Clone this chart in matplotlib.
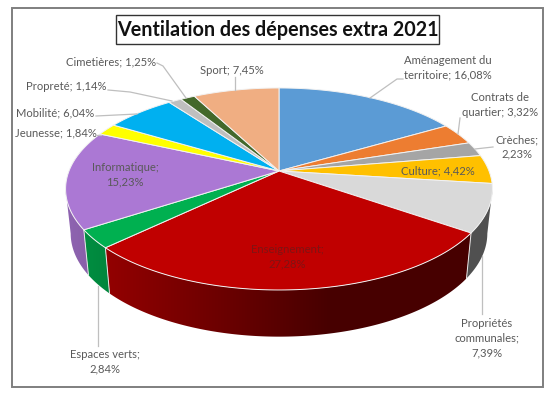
# -*- coding: utf-8 -*-
"""Camembert 3D en perspective : ventilation des dépenses extra 2021."""
import numpy as np
import matplotlib
matplotlib.use("Agg")
import matplotlib.pyplot as plt
from matplotlib.patches import Polygon, Rectangle

plt.rcParams["font.family"] = ["Lato", "DejaVu Sans"]

CATEGORIES = [
    "Aménagement du territoire", "Contrats de quartier", "Crèches", "Culture",
    "Propriétés communales", "Enseignement", "Espaces verts", "Informatique",
    "Jeunesse", "Mobilité", "Propreté", "Cimetières", "Sport",
]
VALUES = [16.08, 3.32, 2.23, 4.42, 7.39, 27.28, 2.84, 15.23, 1.84, 6.04, 1.14, 1.25, 7.45]
COLORS = [
    "#5B9BD5", "#ED7D31", "#A5A5A5", "#FFC000", "#D9D9D9", "#C00000", "#00B050",
    "#AB78D4", "#FFFF00", "#00B0F0", "#BFBFBF", "#43682B", "#F0AE82",
]

TEXT_COLOR = "#595959"
LEADER_COLOR = "#BFBFBF"
LABEL_SIZE = 8.1

# perspective du disque : (X centre, Y centre, demi-axe x, demi-axe y, fuite)
TOP_PLANE = (279, 171, 210, 97.8, 0.178)
BOTTOM_PLANE = (279, 215, 205, 100, 0.178)
# le mur n'est visible qu'en dessous des points extrêmes gauche/droite de l'ellipse
WALL_LIMIT = -TOP_PLANE[4]


def project(theta, plane):
    cx, cy, a, b, k = plane
    u, v = np.sin(theta), np.cos(theta)
    w = 1 + k * v
    return np.column_stack([cx + a * u / w, cy - b * v / w])


def draw_wall(ax, col, t0, t1):
    # mur latéral : dégradé clair à gauche, très sombre à droite, découpé par le polygone
    th = np.linspace(t0, t1, 200)
    th = th[np.cos(th) < WALL_LIMIT]
    if len(th) < 2:
        return
    top, bot = project(th, TOP_PLANE), project(th, BOTTOM_PLANE)
    pts = np.vstack([top, bot[::-1]])
    x0, x1 = pts[:, 0].min() - 1, pts[:, 0].max() + 1
    xs = np.linspace(x0, x1, 256)
    f = np.interp(xs, [64, 330], [0.84, 0.37])
    img = (np.array(matplotlib.colors.to_rgb(col))[None, None, :] * f[None, :, None])
    im = ax.imshow(img, extent=(x0, x1, pts[:, 1].max() + 1, pts[:, 1].min() - 1),
                   aspect="auto", interpolation="bilinear", zorder=2)
    clip = Polygon(pts, closed=True, transform=ax.transData)
    im.set_clip_path(clip)


def draw_pie(ax):
    edges = np.concatenate([[0], np.cumsum(VALUES)]) / np.sum(VALUES) * 2 * np.pi

    # murs d'abord, le dessus les recouvre ensuite
    for i, col in enumerate(COLORS):
        draw_wall(ax, col, edges[i], edges[i + 1])

    for t in edges[:-1]:
        if np.cos(t) < WALL_LIMIT:
            a = project(np.array([t]), TOP_PLANE)[0]
            b = project(np.array([t]), BOTTOM_PLANE)[0]
            ax.plot([a[0], b[0]], [a[1], b[1]], color="#E8E8E8", lw=0.7, zorder=3)

    center = np.array([[TOP_PLANE[0], TOP_PLANE[1]]])
    for i, col in enumerate(COLORS):
        th = np.linspace(edges[i], edges[i + 1], 120)
        pts = np.vstack([center, project(th, TOP_PLANE)])
        ax.add_patch(Polygon(pts, closed=True, facecolor=col, edgecolor="#F2F2F2", lw=0.7, zorder=4))


def draw_labels(ax):
    # (texte, x, y, alignement)
    labels = [
        ("Cimetières; 1,25%", 156, 62, "right"),
        ("Sport; 7,45%", 232, 70, "center"),
        ("Propreté; 1,14%", 106, 87, "right"),
        ("Mobilité; 6,04%", 94, 113, "right"),
        ("Jeunesse; 1,84%", 97, 133, "right"),
        ("Informatique;\n15,23%", 125, 175, "center"),
        ("Aménagement du\nterritoire; 16,08%", 448, 68, "center"),
        ("Contrats de\nquartier; 3,32%", 500, 105, "center"),
        ("Crèches;\n2,23%", 517, 147, "center"),
        ("Culture; 4,42%", 438, 171, "center"),
        ("Propriétés\ncommunales;\n7,39%", 487, 338, "center"),
        ("Espaces verts;\n2,84%", 105, 362, "center"),
    ]
    for txt, x, y, ha in labels:
        ax.text(x, y, txt, ha=ha, va="center", ma="center", fontsize=LABEL_SIZE,
                color=TEXT_COLOR, linespacing=1.4, zorder=6)
    ax.text(287, 257, "Enseignement;\n27,28%", ha="center", va="center", ma="center",
            fontsize=LABEL_SIZE, color="#7E1414", linespacing=1.4, zorder=6)

    leaders = [
        [(157, 63), (163, 66), (186, 98)],
        [(108, 90), (130, 92), (172, 101)],
        [(96, 116), (137, 114)],
        [(97, 135), (101, 135)],
        [(235, 77), (235, 90)],
        [(403, 79), (397, 79), (370, 98)],
        [(460, 118), (458, 134)],
        [(493, 147), (475, 149)],
        [(482, 314), (482, 256)],
        [(98, 346), (98, 286)],
    ]
    for pts in leaders:
        xs, ys = zip(*pts)
        ax.plot(xs, ys, color=LEADER_COLOR, lw=0.9, zorder=5)


def main():
    fig = plt.figure(figsize=(5.6, 3.96), dpi=100)
    ax = fig.add_axes([0, 0, 1, 1])
    ax.axis("off")

    # cadre extérieur et boîte du titre
    ax.add_patch(Rectangle((12, 8), 531, 379, facecolor="white", edgecolor="#7F7F7F", lw=1.4, zorder=0))
    ax.add_patch(Rectangle((116, 15), 323, 29, facecolor="white", edgecolor="#333333", lw=1.0, zorder=1))
    ax.text(277.5, 30, "Ventilation des dépenses extra 2021", ha="center", va="center",
            fontsize=14.2, fontweight="bold", color="#111111", zorder=2)

    draw_pie(ax)
    draw_labels(ax)
    # imshow touche aux limites : on les fixe à la fin
    ax.set_xlim(0, 560)
    ax.set_ylim(396, 0)
    fig.savefig("out.png", dpi=100)
    plt.close(fig)


if __name__ == "__main__":
    main()
